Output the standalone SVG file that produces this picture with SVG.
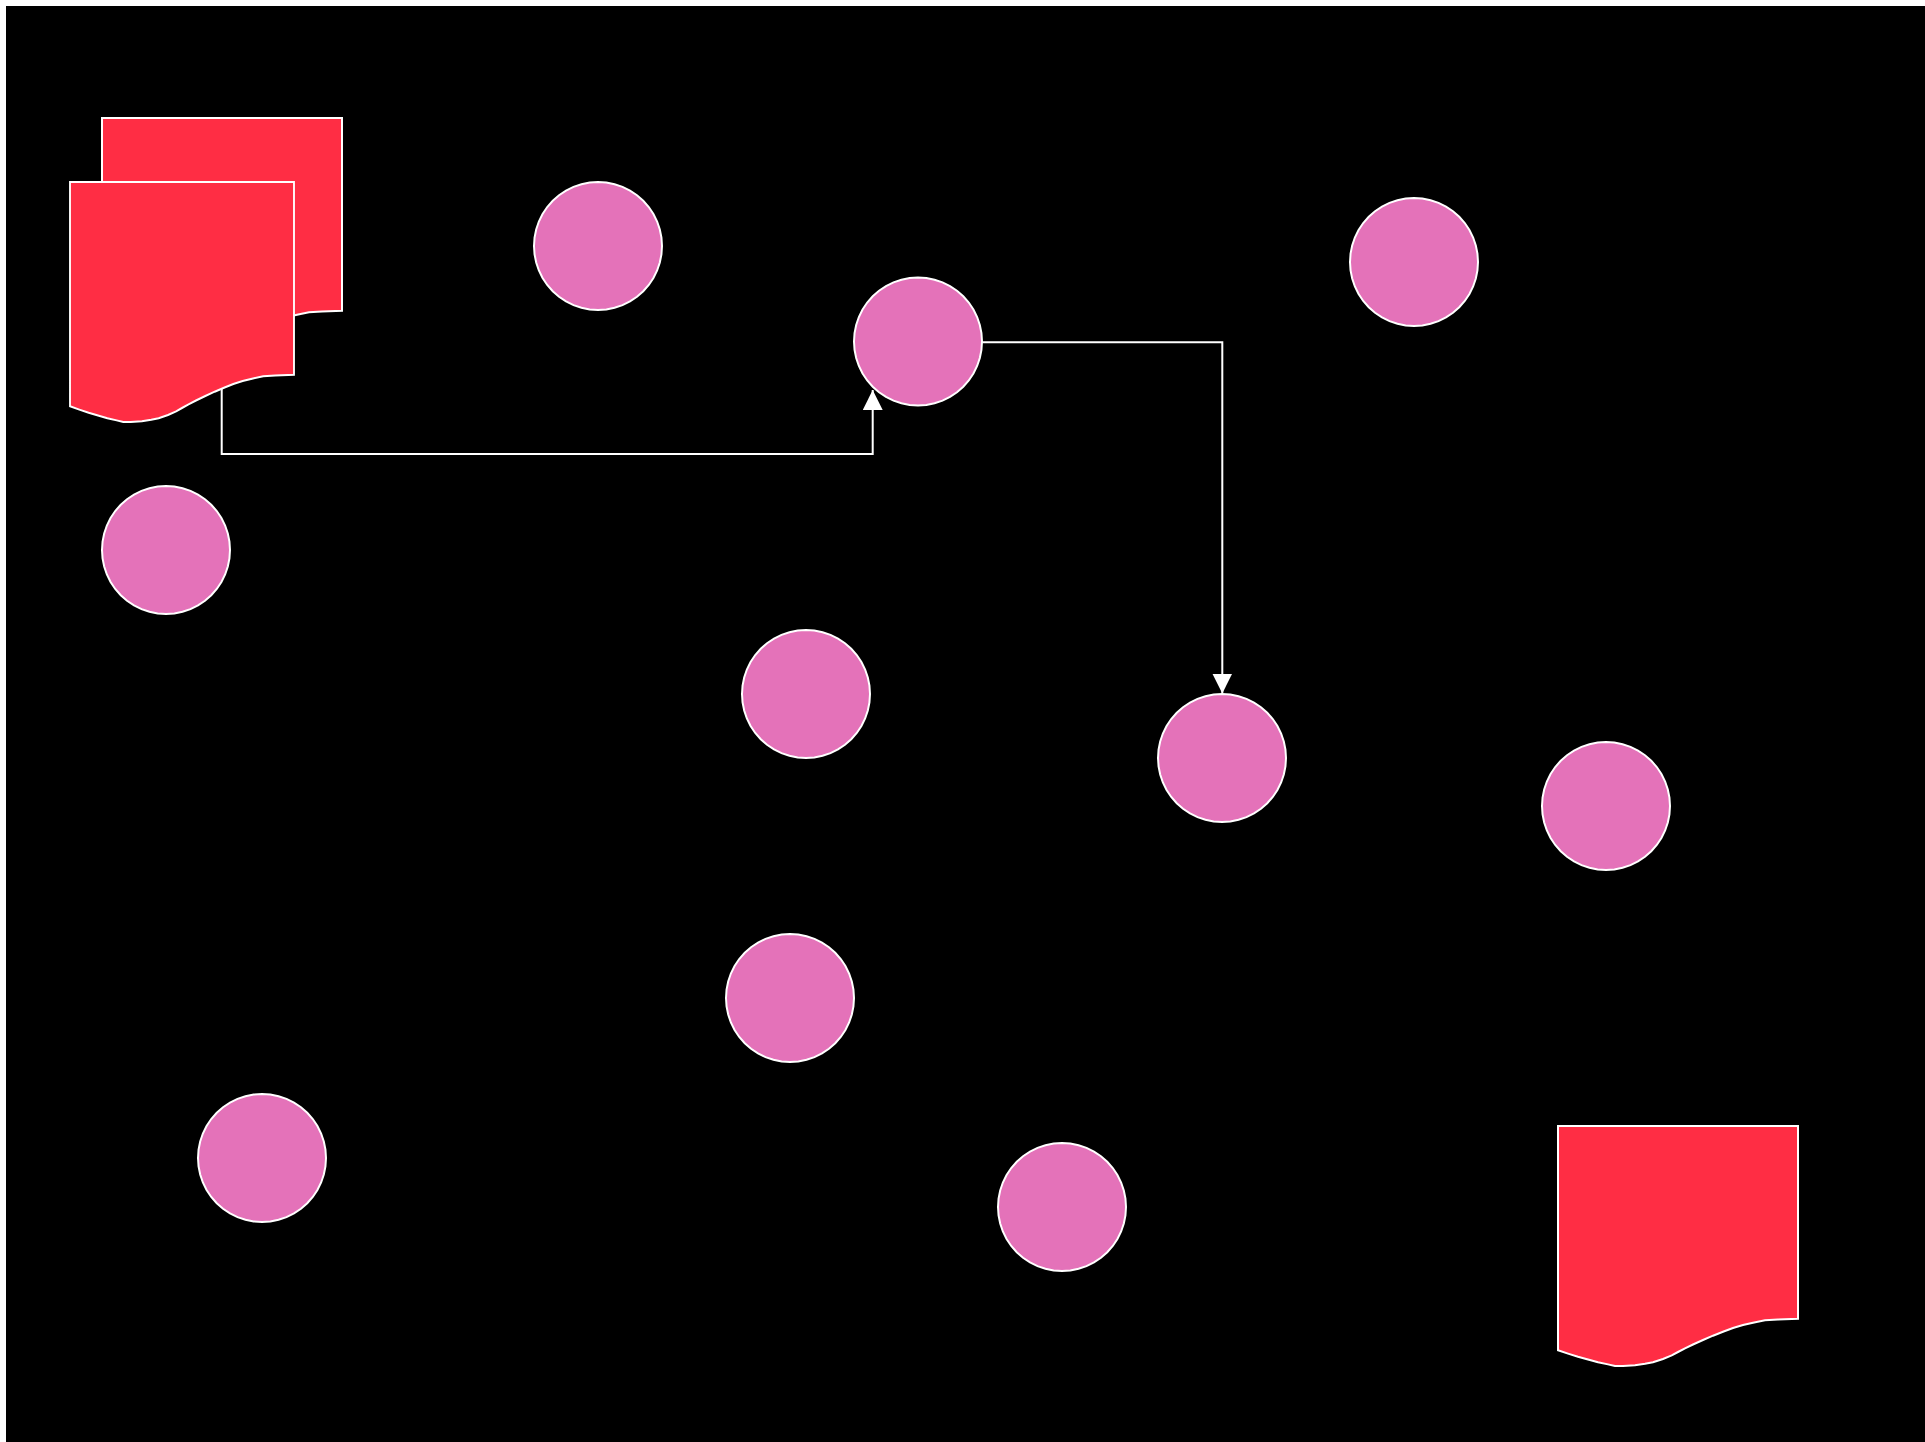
<svg xmlns="http://www.w3.org/2000/svg" width="1925" height="1442" viewBox="0 0 1925 1442">
  <style>
    .circle { fill: #E472B9; stroke: #FFFFFF; stroke-width: 2; }
    .doc { fill: #FF2D44; stroke: #FFFFFF; stroke-width: 2; }
    .edge { fill: none; stroke: #FFFFFF; stroke-width: 2; }
  </style>
  <defs>
    <path id="docShape" d="M0,0 H240 V192.7 L220,193.5 L207,194.3 L195,196.7 L185,199 L175,202 L165,205.8 L155,209.7 L145,214 L135,218.5 L127,222.3 L120,226 L113.7,229.3 L105,233 L95,236.3 L87,237.8 L77,239.3 L65,239.9 L57,240 L50,238.4 L40,236.2 L30,233.5 L20,230.7 L10,227.6 L0,224.3 Z"/>
    <polygon id="circ" points="64,0 63.45,8.35 61.82,16.56 59.13,24.49 55.43,32 50.77,38.96 45.25,45.25 38.96,50.77 32,55.43 24.49,59.13 16.56,61.82 8.35,63.45 0,64 -8.35,63.45 -16.56,61.82 -24.49,59.13 -32,55.43 -38.96,50.77 -45.25,45.25 -50.77,38.96 -55.43,32 -59.13,24.49 -61.82,16.56 -63.45,8.35 -64,0 -63.45,-8.35 -61.82,-16.56 -59.13,-24.49 -55.43,-32 -50.77,-38.96 -45.25,-45.25 -38.96,-50.77 -32,-55.43 -24.49,-59.13 -16.56,-61.82 -8.35,-63.45 0,-64 8.35,-63.45 16.56,-61.82 24.49,-59.13 32,-55.43 38.96,-50.77 45.25,-45.25 50.77,-38.96 55.43,-32 59.13,-24.49 61.82,-16.56 63.45,-8.35"/>
    <marker id="arrow" markerUnits="userSpaceOnUse" markerWidth="20" markerHeight="20" refX="20" refY="10" orient="auto" viewBox="0 0 20 20">
      <path d="M0,0 L20,10 L0,20 Z" fill="#FFFFFF"/>
    </marker>
  </defs>
  <rect x="6" y="6" width="1919" height="1436" fill="#000000"/>

  <g id="doc-back">
    <use href="#docShape" class="doc" transform="translate(102,118)"/>
  </g>
  <g id="doc-front">
    <use href="#docShape" class="doc" vector-effect="non-scaling-stroke" transform="translate(70,182) scale(0.9333,1)"/>
  </g>
  <g id="doc-bottom-right">
    <use href="#docShape" class="doc" transform="translate(1558,1126)"/>
  </g>

  <g id="node-1"><use href="#circ" class="circle" transform="translate(598,246)"/></g>
  <g id="node-2"><use href="#circ" class="circle" transform="translate(918,341.5)"/></g>
  <g id="node-3"><use href="#circ" class="circle" transform="translate(1414,262)"/></g>
  <g id="node-4"><use href="#circ" class="circle" transform="translate(166,550)"/></g>
  <g id="node-5"><use href="#circ" class="circle" transform="translate(806,694)"/></g>
  <g id="node-6"><use href="#circ" class="circle" transform="translate(1222,758)"/></g>
  <g id="node-7"><use href="#circ" class="circle" transform="translate(1606,806)"/></g>
  <g id="node-8"><use href="#circ" class="circle" transform="translate(790,998)"/></g>
  <g id="node-9"><use href="#circ" class="circle" transform="translate(262,1158)"/></g>
  <g id="node-10"><use href="#circ" class="circle" transform="translate(1062,1207)"/></g>

  <g id="connectors">
    <path class="edge" d="M221.7,389 V454 H872.7 V390" marker-end="url(#arrow)"/>
    <path class="edge" d="M982,342.3 H1222.3 V693.5" marker-end="url(#arrow)"/>
  </g>
</svg>
